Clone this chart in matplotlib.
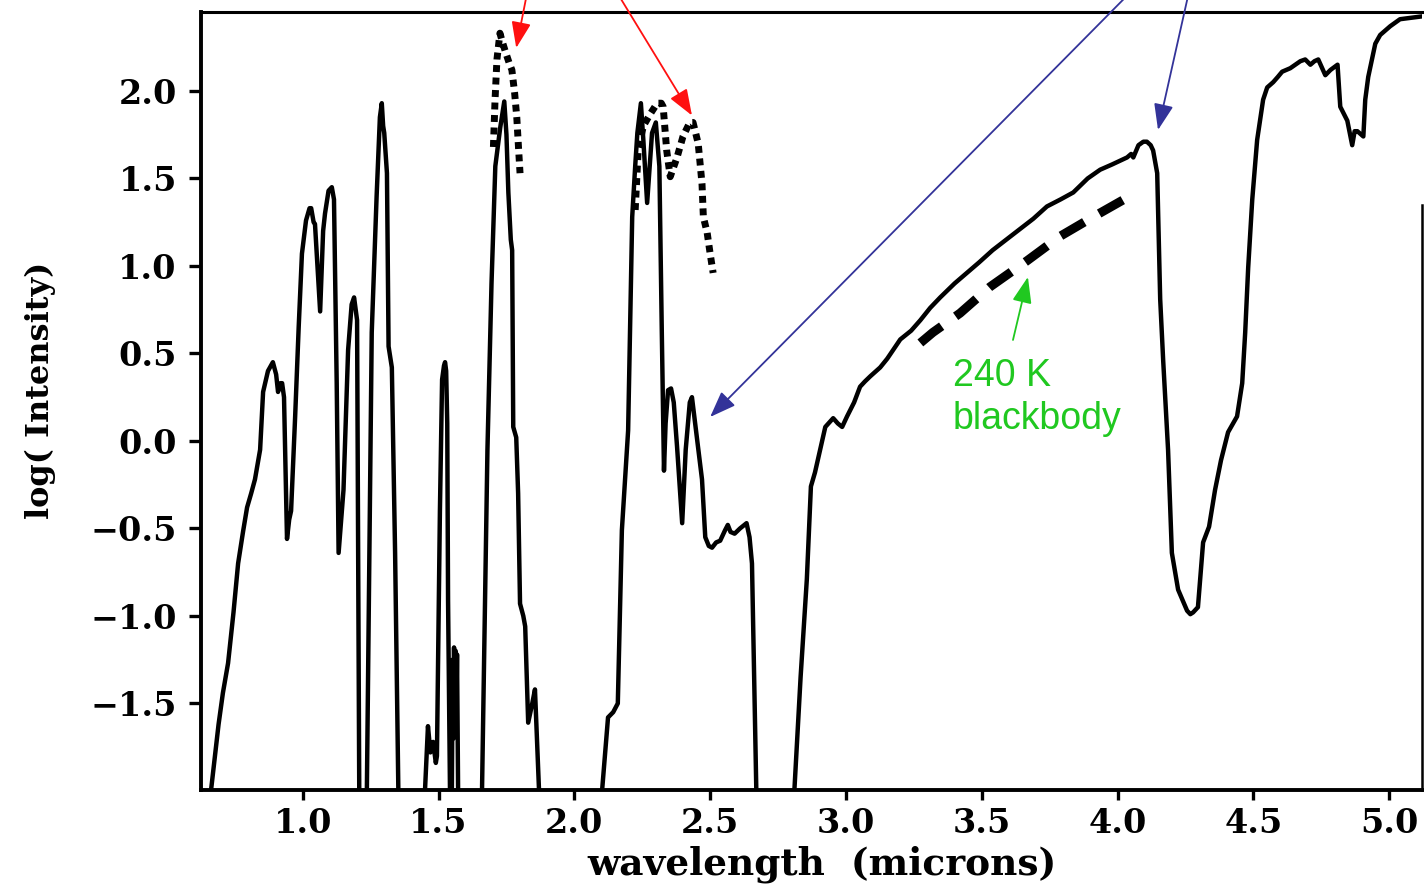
import numpy as np
import matplotlib
matplotlib.use("Agg")
import matplotlib.pyplot as plt

# --- measured spectrum: wavelength (microns) vs log(intensity) ---
# values below the frame (-2.6) just mark where the trace leaves the plot
wl = [
    0.640, 0.662, 0.690, 0.706, 0.725, 0.745, 0.762, 0.780, 0.795, 0.810,
    0.824, 0.843, 0.854, 0.872, 0.890, 0.902, 0.909, 0.918, 0.924, 0.931,
    0.942, 0.950, 0.957, 0.972, 0.985, 0.997, 1.012, 1.025, 1.031, 1.040,
    1.045, 1.064, 1.075, 1.082, 1.095, 1.107, 1.115, 1.125, 1.132, 1.150,
    1.167, 1.180, 1.189, 1.200, 1.208, 1.212, 1.232, 1.236, 1.254, 1.272,
    1.284, 1.291, 1.296, 1.300, 1.310, 1.316, 1.328, 1.340, 1.352, 1.356,
    1.446, 1.450, 1.461, 1.470, 1.480, 1.490, 1.494, 1.505, 1.513, 1.520,
    1.524, 1.528, 1.532, 1.535, 1.542, 1.546, 1.549, 1.552, 1.555, 1.557,
    1.560, 1.563, 1.566, 1.568, 1.572, 1.576,
    1.656, 1.660, 1.671, 1.680, 1.695, 1.709, 1.727, 1.742, 1.750, 1.757,
    1.766, 1.771, 1.775, 1.786, 1.793, 1.800, 1.812, 1.819, 1.830, 1.845,
    1.855, 1.870, 1.874,
    2.096, 2.102, 2.124, 2.143, 2.160, 2.175, 2.198, 2.213, 2.224, 2.232,
    2.245, 2.254, 2.268, 2.286, 2.300, 2.313, 2.322, 2.330, 2.336, 2.345,
    2.356, 2.366, 2.378, 2.397, 2.410, 2.425, 2.433, 2.445, 2.455, 2.470,
    2.482, 2.495, 2.507, 2.522, 2.537, 2.555, 2.565, 2.575, 2.590, 2.610,
    2.634, 2.645, 2.654, 2.670, 2.674,
    2.806, 2.810, 2.833, 2.856, 2.871, 2.886, 2.905, 2.924, 2.953, 2.970,
    2.986, 3.004, 3.030, 3.052, 3.070, 3.090, 3.126, 3.152, 3.200, 3.240,
    3.274, 3.310, 3.347, 3.400, 3.445, 3.490, 3.540, 3.590, 3.640, 3.690,
    3.740, 3.790, 3.837, 3.890, 3.936, 3.980, 4.035, 4.050, 4.058, 4.077,
    4.095, 4.108, 4.122, 4.131, 4.146, 4.157, 4.168, 4.186, 4.200, 4.223,
    4.256, 4.268, 4.278, 4.296, 4.315, 4.337, 4.359, 4.381, 4.407, 4.440,
    4.459, 4.470, 4.481, 4.496, 4.514, 4.536, 4.551, 4.573, 4.590, 4.606,
    4.636, 4.673, 4.691, 4.710, 4.725, 4.739, 4.765, 4.784, 4.810, 4.820,
    4.846, 4.864, 4.873, 4.883, 4.905, 4.912, 4.923, 4.949, 4.967, 5.004,
    5.040, 5.090, 5.140,
]
log_int = [
    -2.60, -2.00, -1.62, -1.44, -1.27, -0.98, -0.70, -0.52, -0.38, -0.30,
    -0.22, -0.05, 0.28, 0.40, 0.45, 0.38, 0.28, 0.33, 0.33, 0.25,
    -0.56, -0.45, -0.40, 0.14, 0.65, 1.07, 1.26, 1.33, 1.33, 1.25,
    1.24, 0.74, 1.20, 1.30, 1.43, 1.45, 1.38, 0.33, -0.64, -0.28,
    0.52, 0.78, 0.82, 0.69, -2.00, -2.60, -2.60, -2.00, 0.62, 1.40,
    1.85, 1.93, 1.80, 1.76, 1.53, 0.54, 0.42, -0.64, -2.00, -2.60,
    -2.60, -2.00, -1.63, -1.78, -1.72, -1.84, -1.80, -0.40, 0.35, 0.43,
    0.45, 0.40, 0.10, -0.91, -2.00, -2.60, -2.00, -1.25, -1.70, -1.18,
    -1.60, -1.20, -1.50, -1.22, -2.00, -2.60,
    -2.60, -2.00, -0.91, -0.05, 0.90, 1.57, 1.79, 1.94, 1.75, 1.42,
    1.15, 1.09, 0.08, 0.02, -0.30, -0.93, -1.00, -1.06, -1.61, -1.50,
    -1.42, -2.00, -2.60,
    -2.60, -2.00, -1.58, -1.55, -1.50, -0.51, 0.06, 1.28, 1.57, 1.76,
    1.93, 1.72, 1.36, 1.76, 1.82, 1.57, 0.62, -0.17, 0.10, 0.29,
    0.30, 0.22, -0.03, -0.47, -0.05, 0.22, 0.25, 0.10, -0.03, -0.22,
    -0.55, -0.60, -0.61, -0.58, -0.57, -0.51, -0.48, -0.52, -0.53, -0.50,
    -0.47, -0.55, -0.70, -2.00, -2.60,
    -2.60, -2.00, -1.35, -0.79, -0.26, -0.18, -0.05, 0.08, 0.13, 0.10,
    0.08, 0.14, 0.22, 0.31, 0.34, 0.37, 0.42, 0.47, 0.58, 0.63,
    0.69, 0.76, 0.82, 0.90, 0.96, 1.02, 1.09, 1.15, 1.21, 1.27,
    1.34, 1.38, 1.42, 1.50, 1.55, 1.58, 1.62, 1.64, 1.62, 1.69,
    1.71, 1.71, 1.69, 1.66, 1.53, 0.81, 0.46, -0.05, -0.64, -0.85,
    -0.97, -0.99, -0.98, -0.95, -0.58, -0.49, -0.28, -0.11, 0.05, 0.14,
    0.33, 0.62, 0.99, 1.38, 1.72, 1.95, 2.02, 2.05, 2.08, 2.11,
    2.13, 2.17, 2.18, 2.15, 2.17, 2.18, 2.09, 2.12, 2.15, 1.91,
    1.83, 1.69, 1.77, 1.77, 1.74, 1.95, 2.08, 2.27, 2.32, 2.37,
    2.41, 2.42, 2.43,
]

# dotted overlays on the 1.75 and 2.3 micron bands
dot1_wl = [1.702, 1.708, 1.715, 1.726, 1.735, 1.745, 1.760, 1.770, 1.780, 1.788, 1.795, 1.800]
dot1_y = [1.68, 1.95, 2.18, 2.33, 2.28, 2.23, 2.16, 2.12, 1.99, 1.85, 1.66, 1.53]

dot2_wl = [2.224, 2.235, 2.254, 2.280, 2.305, 2.320, 2.327, 2.340, 2.353, 2.378,
           2.400, 2.425, 2.437, 2.456, 2.470, 2.475, 2.489, 2.500, 2.511]
dot2_y = [1.32, 1.66, 1.80, 1.87, 1.93, 1.93, 1.91, 1.66, 1.51, 1.62,
          1.74, 1.82, 1.82, 1.70, 1.47, 1.28, 1.19, 1.07, 0.96]

# 240 K blackbody reference
bb_wl = [3.274, 3.320, 3.420, 3.530, 3.667, 3.789, 3.910, 4.035]
bb_y = [0.56, 0.62, 0.73, 0.88, 1.03, 1.17, 1.28, 1.39]

x_ticks = [1.0, 1.5, 2.0, 2.5, 3.0, 3.5, 4.0, 4.5, 5.0]
y_ticks = [-1.5, -1.0, -0.5, 0.0, 0.5, 1.0, 1.5, 2.0]

fig = plt.figure(figsize=(14.24, 8.85), dpi=100)
ax = fig.add_axes([0.1412, 0.1073, 0.8574, 0.8791])

ax.plot(wl, log_int, color="black", lw=3.2, solid_joinstyle="round")
ax.plot(dot1_wl, dot1_y, color="black", lw=5, linestyle=(0, (1.0, 0.8)), dash_capstyle="butt")
ax.plot(dot2_wl, dot2_y, color="black", lw=5, linestyle=(0, (1.0, 0.8)), dash_capstyle="butt")
ax.plot(bb_wl, bb_y, color="black", lw=6.5, linestyle=(0, (3.0, 1.9)), dash_capstyle="butt")

ax.set_xlim(0.6256, 5.121)
ax.set_ylim(-1.995, 2.451)

tick_font = dict(family="DejaVu Serif", weight="bold", size=24)
ax.set_xticks(x_ticks)
ax.set_xticklabels([f"{v:.1f}" for v in x_ticks], **tick_font)
ax.set_yticks(y_ticks)
ax.set_yticklabels([f"{v:.1f}".replace("-", "\u2212") for v in y_ticks], **tick_font)
ax.tick_params(axis="x", direction="out", length=7, width=2.4, pad=5)
ax.tick_params(axis="y", direction="out", length=8.5, width=2.4, pad=9)

for side in ["left", "bottom"]:
    ax.spines[side].set_linewidth(2.8)
ax.spines["top"].set_linewidth(2.2)
ax.spines["right"].set_linewidth(1.8)
ax.spines["right"].set_bounds(-1.995, 1.35)

ax.set_xlabel("wavelength  (microns)", family="DejaVu Serif", weight="bold", size=27)
ax.xaxis.set_label_coords(0.5086, -0.0707)
ax.set_ylabel("log( Intensity)", family="DejaVu Serif", weight="bold", size=23)
ax.yaxis.set_label_coords(-0.1185, 0.514)

# callout arrows coming in from above the frame
red = "#ff1010"
blue = "#333399"
green = "#20c820"
head = "-|>,head_length=0.8,head_width=0.3"
arrows = [
    ((1.786, 2.246), (1.826, 2.56), red),
    ((2.433, 1.86), (2.158, 2.56), red),
    ((2.500, 0.137), (4.045, 2.56), blue),
    ((4.149, 1.777), (4.262, 2.56), blue),
    ((3.670, 0.937), (3.615, 0.577), green),
]
for tip, tail, col in arrows:
    ax.annotate("", xy=tip, xytext=tail, annotation_clip=False,
                arrowprops=dict(arrowstyle=head, color=col, lw=1.3,
                                mutation_scale=20, shrinkA=0, shrinkB=0))

ax.text(3.394, 0.475, "240 K\nblackbody", color=green, family="Liberation Sans",
        size=27, ha="left", va="top", linespacing=1.25)

fig.savefig("out.png", dpi=100)
